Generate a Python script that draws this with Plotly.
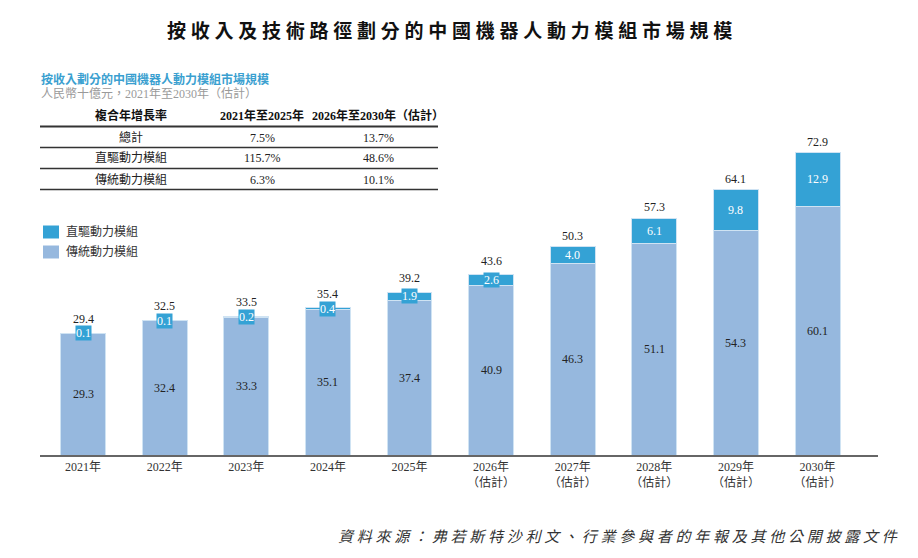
import plotly.graph_objects as go

# data
years = ["2021年", "2022年", "2023年", "2024年", "2025年",
         "2026年<br>（估計）", "2027年<br>（估計）", "2028年<br>（估計）",
         "2029年<br>（估計）", "2030年<br>（估計）"]
traditional = [29.3, 32.4, 33.3, 35.1, 37.4, 40.9, 46.3, 51.1, 54.3, 60.1]
direct = [0.1, 0.1, 0.2, 0.4, 1.9, 2.6, 4.0, 6.1, 9.8, 12.9]
totals = [29.4, 32.5, 33.5, 35.4, 39.2, 43.6, 50.3, 57.3, 64.1, 72.9]

cagr_header = ["複合年增長率", "2021年至2025年", "2026年至2030年（估計）"]
cagr_rows = [
    ["總計", "7.5%", "13.7%"],
    ["直驅動力模組", "115.7%", "48.6%"],
    ["傳統動力模組", "6.3%", "10.1%"],
]

C_DIRECT = "#34a2d5"
C_TRAD = "#96b8de"
FONT = "Liberation Serif, Noto Sans CJK TC, serif"
OFF = 8  # page body margin
W, H = 918 - 2 * OFF, 558 - 2 * OFF
PX_PER_UNIT = 4.142


def px(x):
    return (x - OFF) / W


def py(y):
    return 1 - (y - OFF) / H


def spaced(s):
    return " ".join(list(s))


def note(x, y, text, size=12, color="#222", xanchor="center", **kw):
    return dict(xref="paper", yref="paper", x=px(x), y=py(y), text=text, showarrow=False,
                xanchor=xanchor, yanchor="middle", font=dict(family=FONT, size=size, color=color), **kw)


fig = go.Figure()
fig.add_trace(go.Bar(x=years, y=traditional, name="傳統動力模組", width=0.55,
                     marker=dict(color=C_TRAD, line=dict(color="#cfe3f3", width=1))))
fig.add_trace(go.Bar(x=years, y=direct, name="直驅動力模組", width=0.55,
                     marker=dict(color=C_DIRECT, line=dict(color="#cfe3f3", width=1))))

ann = []
for i, yr in enumerate(years):
    t, d = traditional[i], direct[i]
    ann.append(dict(x=yr, y=t / 2, text=f"{t:.1f}", showarrow=False, yanchor="middle",
                    font=dict(family=FONT, size=12, color="#222")))
    ann.append(dict(x=yr, y=t + d / 2, text=f"{d:.1f}", showarrow=False, yanchor="middle",
                    bgcolor=C_DIRECT, borderpad=0,
                    font=dict(family=FONT, size=12, color="white")))
    # small segments: label box pokes above the bar, so lift the total a bit
    lift = 5 if d * PX_PER_UNIT < 12 else 2
    ann.append(dict(x=yr, y=t + d, text=f"{totals[i]:.1f}", showarrow=False,
                    yanchor="bottom", yshift=lift,
                    font=dict(family=FONT, size=12, color="#222")))

# title, subtitle
ann.append(note(449, 31, "<b>" + spaced("按收入及技術路徑劃分的中國機器人動力模組市場規模") + "</b>",
                size=19, color="#111"))
ann.append(note(39, 79, "<b>按收入劃分的中國機器人動力模組市場規模</b>", color="#3a9fd0", xanchor="left"))
ann.append(note(39, 94, "人民幣十億元，2021年至2030年（估計）", color="#9a9a9a", xanchor="left"))

# CAGR table
col_x = [131, 262, 378]
for j, h in enumerate(cagr_header):
    ann.append(note(col_x[j], 116, "<b>" + h + "</b>", color="#111"))
row_y = [137.5, 158.5, 179.5]
for r, row in enumerate(cagr_rows):
    for j, cell in enumerate(row):
        ann.append(note(col_x[j], row_y[r], cell))

shapes = []
for k, ly in enumerate([126.5, 147.5, 168.5, 189.5]):
    shapes.append(dict(type="line", xref="paper", yref="paper", x0=px(40), x1=px(438),
                       y0=py(ly), y1=py(ly), line=dict(color="#333", width=2 if k == 0 else 1.5)))

# legend
for k, (name, col) in enumerate([("直驅動力模組", C_DIRECT), ("傳統動力模組", C_TRAD)]):
    cy = 232 + 20 * k
    shapes.append(dict(type="rect", xref="paper", yref="paper", x0=px(43), x1=px(59),
                       y0=py(cy - 6.5), y1=py(cy + 6.5), fillcolor=col, line=dict(width=0)))
    ann.append(note(64, cy, name, color="#333", xanchor="left"))

# source
ann.append(note(901, 537, "<i>" + spaced("資料來源：弗若斯特沙利文、行業參與者的年報及其他公開披露文件") + "</i>",
                size=15, color="#333", xanchor="right"))

fig.update_layout(
    width=W, height=H, barmode="stack", showlegend=False,
    plot_bgcolor="white", paper_bgcolor="white",
    margin=dict(l=0, r=0, t=0, b=0),
    annotations=ann, shapes=shapes,
    xaxis=dict(domain=[px(40), px(878)], range=[-0.527, 9.74], showline=True, linecolor="#666",
               linewidth=2, ticks="", tickfont=dict(family=FONT, size=12, color="#333"),
               showgrid=False, fixedrange=True),
    yaxis=dict(domain=[py(455), 1], range=[0, (455 - OFF) / PX_PER_UNIT], visible=False,
               showgrid=False, fixedrange=True),
)

fig.write_html("out.html")
